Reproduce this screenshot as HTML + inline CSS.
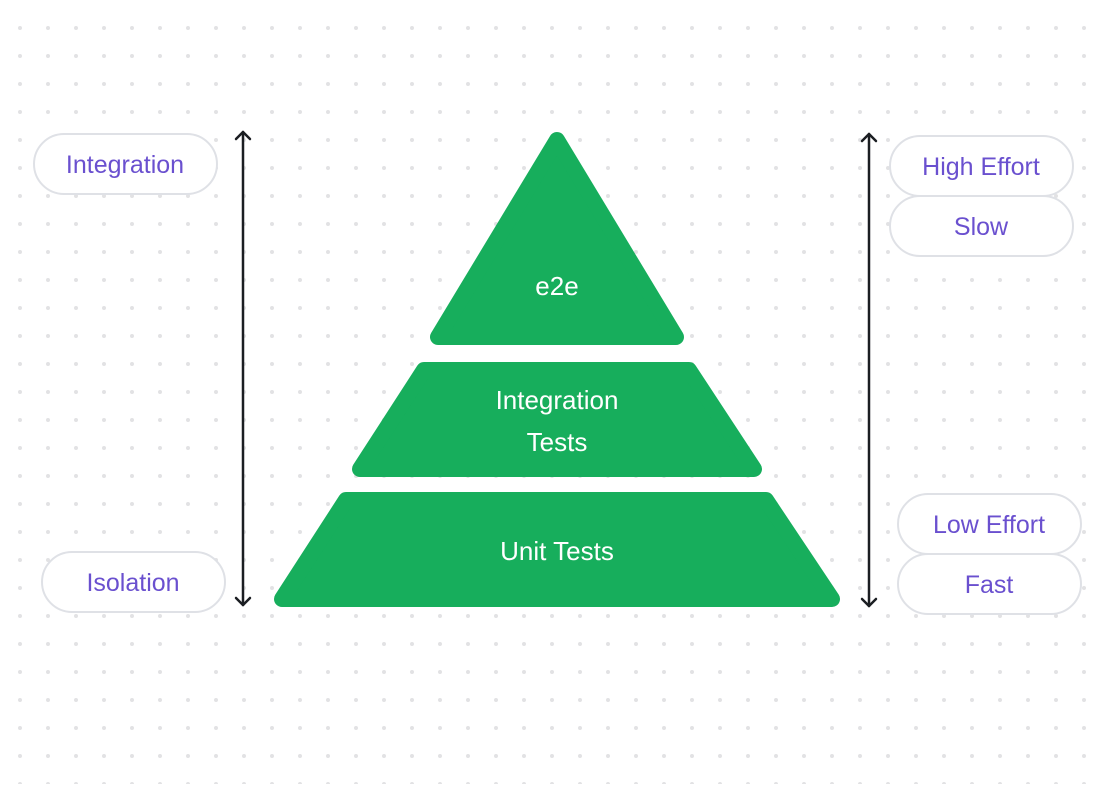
<!DOCTYPE html>
<html><head><meta charset="utf-8"><style>
html,body{margin:0;padding:0;background:#fff;}
svg{display:block;}
text{font-family:"Liberation Sans",sans-serif;}
</style></head><body>
<svg width="1100" height="786" viewBox="0 0 1100 786" xmlns="http://www.w3.org/2000/svg">
<defs>
<pattern id="dots" x="6" y="14" width="28" height="28" patternUnits="userSpaceOnUse">
<circle cx="14" cy="14" r="2" fill="#e2e2e4"/>
</pattern>
</defs>
<rect x="6" y="14" width="1092" height="770" fill="url(#dots)"/>
<g fill="#17ae5c" stroke="#17ae5c" stroke-width="16" stroke-linejoin="round">
<polygon points="557,140 438,337 676,337"/>
<polygon points="424,370 689,370 754,469 360,469"/>
<polygon points="346,500 766,500 832,599 282,599"/>
</g>
<g fill="#fff" font-size="26" text-anchor="middle">
<text x="557" y="295">e2e</text>
<text x="557" y="409">Integration</text>
<text x="557" y="451">Tests</text>
<text x="557" y="560">Unit Tests</text>
</g>
<g stroke="#1b1e22" stroke-width="2.5" fill="none" stroke-linecap="round" stroke-linejoin="round">
<line x1="243" y1="132" x2="243" y2="605"/>
<polyline points="236,139 243,132 250,139"/>
<polyline points="236,598 243,605 250,598"/>
<line x1="869" y1="134" x2="869" y2="606"/>
<polyline points="862,141 869,134 876,141"/>
<polyline points="862,599 869,606 876,599"/>
</g>
<g fill="#fff" stroke="#dfe1e6" stroke-width="2">
<rect x="34" y="134" width="183" height="60" rx="30"/>
<rect x="42" y="552" width="183" height="60" rx="30"/>
<rect x="890" y="136" width="183" height="60" rx="30"/>
<rect x="890" y="196" width="183" height="60" rx="30"/>
<rect x="898" y="494" width="183" height="60" rx="30"/>
<rect x="898" y="554" width="183" height="60" rx="30"/>
</g>
<g fill="#6a50cf" font-size="25" text-anchor="middle">
<text x="125" y="173">Integration</text>
<text x="133" y="591">Isolation</text>
<text x="981" y="175">High Effort</text>
<text x="981" y="235">Slow</text>
<text x="989" y="533">Low Effort</text>
<text x="989" y="593">Fast</text>
</g>
</svg>
</body></html>
